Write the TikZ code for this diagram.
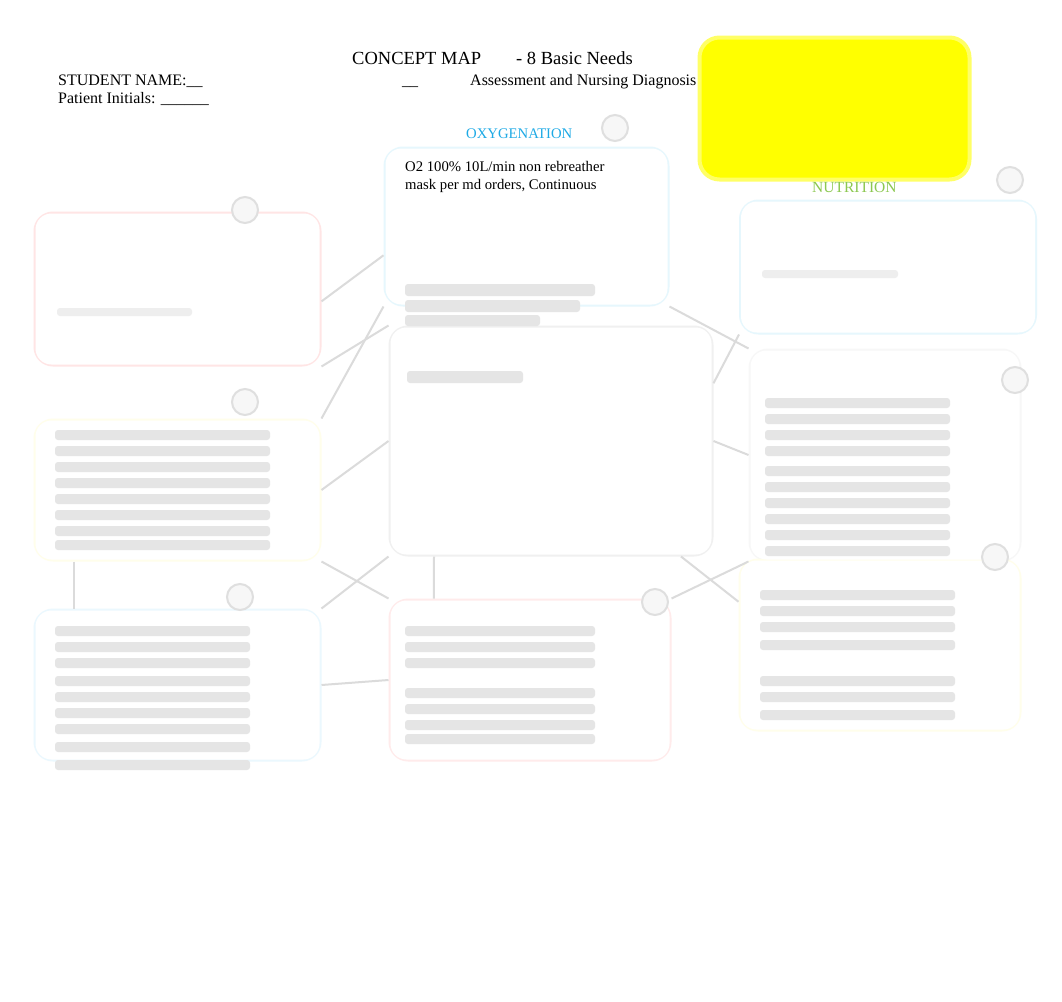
\documentclass[tikz,border=0pt]{standalone}
\usepackage{fontspec}
\setmainfont{Liberation Serif}
\usepackage{xcolor}
\usetikzlibrary{calc}
\definecolor{oxyblue}{RGB}{30,170,230}
\definecolor{nutgreen}{RGB}{140,200,80}
\definecolor{hiyellow}{RGB}{255,255,0}

\tikzset{
    needbox/.style={draw=#1, line width=3pt, rounded corners=18pt, fill=white},
    txtbar/.style={fill=gray!20, draw=none, rounded corners=3pt},
    faintbar/.style={fill=gray!13, draw=none, rounded corners=3pt},
    link/.style={draw=gray!28, line width=2pt},
    badge/.style={circle, draw=gray!25, line width=2pt, fill=gray!6, minimum size=26pt, inner sep=0pt},
    plain/.style={inner sep=0pt, anchor=base west, font=\fontsize{16}{19}\selectfont}
}

\begin{document}
\begin{tikzpicture}[x=1pt,y=-1pt]
    % Page frame
    \useasboundingbox[fill=white] (0,0) rectangle (1062,1001);
    % Heading
    \node[plain, font=\fontsize{18.5}{22}\selectfont] (title) at (352,64) {CONCEPT MAP};
    \node[plain, font=\fontsize{18.5}{22}\selectfont] (needs) at (516,64) {- 8 Basic Needs};
    \node[plain] (student) at (58,85) {STUDENT NAME:\_\_};
    \node[plain] (blank) at (402,85) {\_\_};
    \node[plain] (assess) at (470,85) {Assessment and Nursing Diagnosis};
    \node[plain] (initials) at (58,103) {Patient Initials: \_\_\_\_\_\_};
    % Highlight
    \node[fill=hiyellow, draw=hiyellow!60, line width=4pt, rounded corners=20pt,
          minimum width=270pt, minimum height=142pt] (mark) at (834.5,108.5) {};
    % Boxes
    \node[needbox=red!10, minimum width=285pt, minimum height=152pt] (tl) at (177.5,289) {};
    \node[needbox=cyan!10, minimum width=283pt, minimum height=157pt] (oxy) at (526.5,226.5) {};
    \node[needbox=cyan!10, minimum width=295pt, minimum height=132pt] (nut) at (888,267) {};
    \node[needbox=gray!12, minimum width=322pt, minimum height=228pt] (cen) at (551,441) {};
    \node[needbox=yellow!8, minimum width=285pt, minimum height=140pt] (ml) at (177.5,490) {};
    \node[needbox=gray!6, minimum width=270pt, minimum height=210pt] (mr) at (885,455) {};
    \node[needbox=cyan!8, minimum width=285pt, minimum height=150pt] (bl) at (177.5,685) {};
    \node[needbox=red!8, minimum width=280pt, minimum height=160pt] (bc) at (530,680) {};
    \node[needbox=yellow!8, minimum width=280pt, minimum height=170pt] (br) at (880,645) {};
    % Links
    \draw[link] ($(tl.north east)!0.58!(tl.south east)$) -- ($(oxy.north west)!0.68!(oxy.south west)$);
    \draw[link] (tl.south east) -- (cen.north west);
    \draw[link] (ml.north east) -- (oxy.south west);
    \draw[link] (oxy.south east) -- (mr.north west);
    \draw[link] (nut.south west) -- ($(cen.north east)!0.25!(cen.south east)$);
    \draw[link] (ml.east) -- (cen.west);
    \draw[link] (cen.east) -- (mr.west);
    \draw[link] (ml.south east) -- (bc.north west);
    \draw[link] (cen.south west) -- (bl.north east);
    \draw[link] ($(cen.south west)!0.9!(cen.south east)$) -- ($(br.north west)!0.25!(br.south west)$);
    \draw[link] (mr.south west) -- (bc.north east);
    \draw[link] (bl.east) -- (bc.west);
    \draw[link] ($(cen.south west)!0.14!(cen.south east)$) -- ($(bc.north west)!0.16!(bc.north east)$);
    \draw[link] ($(ml.south west)!0.14!(ml.south east)$) -- ($(bl.north west)!0.14!(bl.north east)$);
    % Redraw boxes over links
    \foreach \b in {tl,oxy,nut,cen,ml,mr,bl,bc,br}
        \fill[white, rounded corners=16pt] ($(\b.north west)+(2,2)$) rectangle ($(\b.south east)+(-2,-2)$);
    % Badges
    \node[badge] (btl) at (245,210) {};
    \node[badge] (boxy) at (615,128) {};
    \node[badge] (bnut) at (1010,180) {};
    \node[badge] (bml) at (245,402) {};
    \node[badge] (bmr) at (1015,380) {};
    \node[badge] (bbl) at (240,597) {};
    \node[badge] (bbc) at (655,602) {};
    \node[badge] (bbr) at (995,557) {};
    % Labels
    \node[plain, font=\fontsize{14.7}{17}\selectfont, text=oxyblue] (oxylab) at (466,138) {OXYGENATION};
    \node[plain, font=\fontsize{15.5}{18}\selectfont, text=nutgreen] (nutlab) at (812,192) {NUTRITION};
    \node[plain, font=\fontsize{14.7}{17}\selectfont] (oxy1) at (405,171) {O2 100\% 10L/min non rebreather};
    \node[plain, font=\fontsize{14.7}{17}\selectfont] (oxy2) at (405,189) {mask per md orders, Continuous};
    % Faded text
    \fill[txtbar] (405,284) rectangle (595,296);
    \fill[txtbar] (405,300) rectangle (580,312);
    \fill[txtbar] (405,315) rectangle (540,326);
    \fill[txtbar] (407,371) rectangle (523,383);
    \fill[faintbar] (57,308) rectangle (192,316);
    \fill[faintbar] (762,270) rectangle (898,278);
    \foreach \y in {430,446,462,478,494,510,526,540}
        \fill[txtbar] (55,\y) rectangle (270,\y+10);
    \foreach \y in {398,414,430,446,466,482,498,514,530,546}
        \fill[txtbar] (765,\y) rectangle (950,\y+10);
    \foreach \y in {626,642,658,676,692,708,724,742,760}
        \fill[txtbar] (55,\y) rectangle (250,\y+10);
    \foreach \y in {626,642,658,688,704,720,734}
        \fill[txtbar] (405,\y) rectangle (595,\y+10);
    \foreach \y in {590,606,622,640,676,692,710}
        \fill[txtbar] (760,\y) rectangle (955,\y+10);
\end{tikzpicture}
\end{document}
